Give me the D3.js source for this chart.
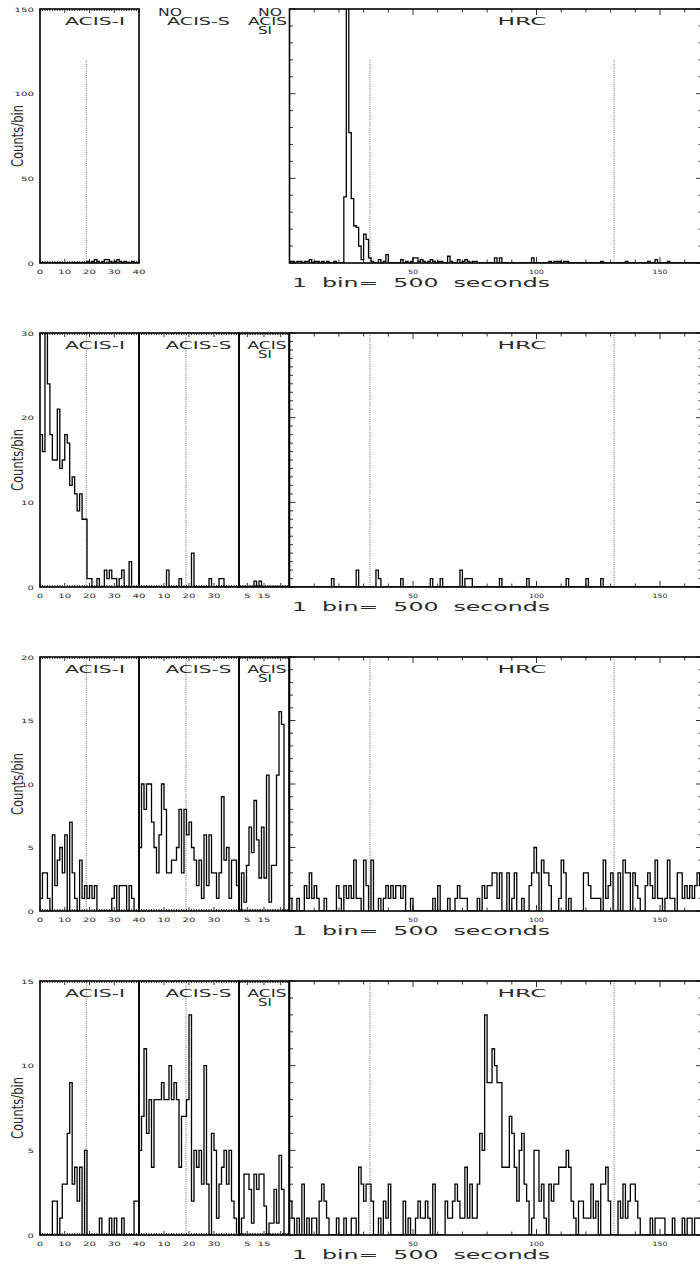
<!DOCTYPE html>
<html>
<head>
<meta charset="utf-8">
<script src="https://cdn.jsdelivr.net/npm/d3@7/dist/d3.min.js"></script>
<style>
  body { margin: 0; background: #fff; }
  svg { display: block; }
  text { font-family: "DejaVu Sans", sans-serif; fill: #2a2a2a; }
</style>
</head>
<body>
<script>
// counts per bin (1 bin = 500 s), one array per row, top row first
var acisI = [
  [0,0,0,0,0,0,0,0,0,0,0,0,0,0,0,0,0,0,0,1,0,1,2,1,0,1,2,2,1,0,1,2,1,0,1,0,0,1,0,0],
  [18,16,30,24,18,15,15,21,14,15,18,17,12,13,11,9,11,8,8,1,1,0,0,1,0,0,2,1,2,1,1,0,1,2,0,0,3,0,0,0],
  [1,3,3,1,0,6,2,4,5,3,6,0,7,3,1,0,4,1,2,1,2,1,2,0,0,0,0,0,0,1,2,0,2,2,2,0,2,1,0,0],
  [0,0,0,0,0,2,2,0,1,3,3,6,9,3,4,2,4,0,5,0,0,0,0,0,1,0,0,0,1,0,1,0,0,1,0,0,0,0,2,2]
];
var acisS = [
  null,
  [0,0,0,0,0,0,0,0,0,0,0,2,0,0,0,0,1,0,0,0,0,4,0,0,0,0,0,0,1,0,0,0,1,1,0,0,0,0,0,0],
  [5,10,8,10,10,7,5,3,6,10,8,3,3,4,4,5,8,3,8,6,7,5,4,2,4,1,6,2,6,3,3,1,3,9,4,5,1,4,4,2],
  [5,7,11,6,8,4,8,8,8,9,8,8,10,8,9,8,4,7,7,8,13,2,5,4,5,3,10,3,0,6,5,1,3,4,5,3,5,2,1,0]
];
// ACIS SI uses 1.5-unit bins, counts scaled back to 500 s
var acisSI = [
  null,
  [0,0,0,0,0,0,0.7,0,0.7,0,0,0,0,0,0,0,0,0,0,0],
  [0,3,0.7,3.6,6.6,4.6,8.7,5.6,2.6,6.6,2.6,10.7,0.7,3.6,3.6,10.7,15.7,14.7,0,0],
  [0,1,3.6,3.6,2.7,0.7,3.6,2.7,3.6,3.6,1.7,0,0.7,0.7,2.7,0.7,4.7,2.7,0,0]
];
var hrc = [
  [1,1,0,1,1,0,1,1,2,0, 1,1,0,1,0,1,0,0,1,0, 0,0,39,160,77,38,22,21,10,2, 17,14,3,1,0,0,2,0,1,5,
   0,0,0,0,0,2,0,1,0,1, 3,3,1,2,1,0,1,2,1,0, 1,1,0,0,4,1,0,0,2,0, 1,2,1,0,1,1,0,0,0,0,
   0,0,0,3,0,3,0,0,0,0, 0,0,0,0,0,0,0,0,3,0, 0,0,0,0,0,1,0,1,1,1, 0,1,1,0,0,0,0,0,0,0,
   0,0,0,0,0,0,1,0,0,0, 0,0,0,0,0,0,1,0,0,0, 0,0,0,0,0,1,0,0,2,0, 0,0,0,1,0,0,0,0,0,0,
   0,0,0,0,0,0,0],
  [0,0,0,0,0,0,0,0,0,0, 0,0,0,0,0,0,0,1,0,0, 0,0,0,0,0,0,0,2,0,0, 0,0,0,0,0,2,1,0,0,0,
   0,0,0,0,0,1,0,0,0,0, 0,0,0,0,0,0,0,1,0,0, 0,1,0,0,0,0,0,0,0,2, 0,1,1,1,0,0,0,0,0,0,
   0,0,0,0,0,1,0,0,0,0, 0,0,0,0,0,0,1,0,0,0, 0,0,0,0,0,0,0,0,0,0, 0,0,1,0,0,0,0,0,0,0,
   1,0,0,0,0,0,1,0,0,0, 0,0,0,0,0,0,0,0,0,0, 0,0,0,0,0,0,0,0,0,0, 0,0,0,0,0,0,0,0,0,0,
   0,0,0,0,0,0,0],
  [1,0,0,1,0,0,2,1,3,1, 2,1,0,0,1,0,0,0,0,2, 1,0,2,1,2,1,4,1,1,0, 4,2,0,4,0,0,1,0,1,2,
   1,2,1,2,2,1,2,0,0,1, 0,0,0,0,0,0,0,0,1,0, 2,0,0,0,1,0,0,1,2,1, 1,1,0,0,0,0,1,0,2,1,
   2,2,3,3,1,3,0,0,3,0, 1,3,0,0,1,0,0,2,3,5, 3,0,4,3,3,2,0,0,0,1, 4,3,0,1,0,0,0,0,0,3,
   3,2,1,1,1,1,0,4,1,2, 3,0,0,3,0,4,3,3,0,3, 2,1,0,0,2,3,2,1,4,1, 1,0,1,4,1,1,0,3,3,1,
   2,1,2,1,2,3,2],
  [2,1,0,1,0,3,0,1,0,1, 1,0,2,3,2,1,0,0,0,1, 0,0,1,0,0,1,1,0,4,3, 2,3,3,2,0,0,1,0,2,1,
   3,0,0,0,0,0,2,0,1,0, 0,1,2,1,1,2,1,0,3,0, 0,0,0,2,1,1,2,3,2,1, 1,4,1,3,1,1,3,6,5,13,
   9,9,11,10,9,9,4,4,4,7, 6,4,2,5,6,3,2,0,1,5, 5,2,3,1,0,3,2,3,3,4, 4,4,5,4,2,1,0,2,2,1,
   1,1,3,1,2,0,3,3,4,2, 0,0,0,2,1,3,1,2,3,3, 2,1,0,0,0,0,1,0,1,1, 1,1,0,0,0,1,0,0,0,1,
   0,1,1,0,1,1,1]
];
var yMax = [150, 30, 20, 15];
var yLabels = [[0,50,100,150],[0,10,20,30],[0,5,10,15,20],[0,5,10,15]];
var yMinorStep = [10, 1, 1, 1];
var xLabelsI = [0,10,20,30,40];
var xLabelsS = [10,20,30];
var xLabelsSI = [5,15];
var xLabelsHRC = [50,100,150];
var markI = 18.7, markS = 18.8, markHRC = [32.6, 131.4], markTop = 120;

var W = 700, H = 1266;
var rowTop = [9, 333, 657, 981], plotH = 254;
var frame = {
  I:   {x0: 40,    x1: 139, n: 40,  bin: 1},
  S:   {x0: 139,   x1: 239, n: 40,  bin: 1},
  SI:  {x0: 239,   x1: 289, n: 30,  bin: 1.5},
  HRC: {x0: 289.5, x1: 702, n: 167, bin: 1}
};

var svg = d3.select("body").append("svg").attr("width", W).attr("height", H);
var defs = svg.append("defs");

function label(g, x, y, s, size, len, anchor) {
  var t = g.append("text").attr("x", x).attr("y", y)
    .attr("font-size", size).attr("text-anchor", anchor || "middle")
    .attr("dominant-baseline", "central").style("white-space", "pre").text(s);
  if (len) t.attr("textLength", len).attr("lengthAdjust", "spacingAndGlyphs");
  return t;
}

function seg(g, x1, y1, x2, y2, w) {
  g.append("line").attr("x1", x1).attr("y1", y1).attr("x2", x2).attr("y2", y2)
    .attr("stroke", "#000").attr("stroke-width", w || 1);
}

function hist(g, vals, bin, x, y, clipId) {
  var pts = vals.map(function(v, i) { return [x(i * bin), y(v)]; });
  pts.push([x(vals.length * bin), y(vals[vals.length - 1])]);
  g.append("path").attr("d", d3.line().curve(d3.curveStepAfter)(pts))
    .attr("fill", "none").attr("stroke", "#000").attr("stroke-width", 1.3)
    .attr("clip-path", "url(#" + clipId + ")");
}

function dotted(g, xv, y, bottom, top) {
  g.append("line").attr("x1", xv).attr("x2", xv)
    .attr("y1", bottom).attr("y2", Math.max(top, y(markTop)))
    .attr("stroke", "#444").attr("stroke-width", 0.8).attr("stroke-dasharray", "1,1.2");
}

function panel(g, key, r, vals, y, opt) {
  var f = frame[key], top = rowTop[r], bottom = top + plotH;
  var x = d3.scaleLinear().domain([0, f.n]).range([f.x0, f.x1]);
  var id = "clip" + key + r;
  defs.append("clipPath").attr("id", id).append("rect")
    .attr("x", f.x0).attr("y", top).attr("width", f.x1 - f.x0).attr("height", plotH);

  // ticks on top and bottom edges
  opt.xticks.forEach(function(t) {
    var len = t.major ? opt.majLen : opt.minLen;
    seg(g, x(t.v), bottom, x(t.v), bottom - len, 0.8);
    seg(g, x(t.v), top, x(t.v), top + len, 0.8);
  });
  if (opt.yticks) {
    opt.yticks.forEach(function(t) {
      var len = t.major ? 6 : 3.5;
      seg(g, f.x0, y(t.v), f.x0 + len, y(t.v), 0.8);
      seg(g, f.x1, y(t.v), f.x1 - len, y(t.v), 0.8);
    });
  }
  (opt.marks || []).forEach(function(m) { dotted(g, x(m), y, bottom, top); });
  hist(g, vals, f.bin, x, y, id);
  g.append("rect").attr("x", f.x0).attr("y", top).attr("width", f.x1 - f.x0).attr("height", plotH)
    .attr("fill", "none").attr("stroke", "#000").attr("stroke-width", 1.6);
  (opt.xlabels || []).forEach(function(v) {
    var s = String(v);
    label(g, x(v), bottom + 8, s, 6, s.length * opt.digitW);
  });
  return x;
}

function denseTicks(n, isMajor) {
  return d3.range(0, n + 1).map(function(v) { return {v: v, major: isMajor(v)}; });
}

rowTop.forEach(function(top, r) {
  var g = svg.append("g");
  var bottom = top + plotH;
  var y = d3.scaleLinear().domain([0, yMax[r]]).range([bottom, top]);

  // y axis labels
  yLabels[r].forEach(function(v) {
    var s = String(v);
    label(g, 34, y(v), s, 6, s.length * 6.5, "end");
  });
  label(g, 17.5, 0, "Counts/bin", 16, 62)
    .attr("transform", "translate(0," + (top + plotH / 2) + ") rotate(-90,17.5,0)");

  var tens = function(v) { return v % 10 === 0; };
  panel(g, "I", r, acisI[r], y, {xticks: denseTicks(40, tens), majLen: 4, minLen: 2,
    marks: [markI], xlabels: xLabelsI, digitW: 6.5});
  label(g, 95, top + 12, "ACIS-I", 10, 60);

  if (acisS[r]) {
    panel(g, "S", r, acisS[r], y, {xticks: denseTicks(40, tens), majLen: 4, minLen: 2,
      marks: [markS], xlabels: xLabelsS, digitW: 6.5});
    panel(g, "SI", r, acisSI[r], y, {xticks: denseTicks(30, function(v) { return v % 10 === 5; }),
      majLen: 4, minLen: 2, xlabels: xLabelsSI, digitW: 6.5});
    label(g, 198.5, top + 12, "ACIS-S", 10, 66);
    label(g, 267, top + 12, "ACIS", 10, 39);
    label(g, 265, top + 21.5, "SI", 10, 14);
  } else {
    label(g, 170, top + 3.5, "NO", 10, 24);
    label(g, 198.5, top + 12.5, "ACIS-S", 10, 63);
    label(g, 270, top + 3.5, "NO", 10, 24);
    label(g, 267.5, top + 12.5, "ACIS", 10, 39);
    label(g, 265, top + 21.5, "SI", 10, 14);
  }

  var hx = d3.range(0, 171, 10).map(function(v) { return {v: v, major: v % 50 === 0}; });
  var hy = d3.range(0, yMax[r] + 0.001, yMinorStep[r]).map(function(v) {
    return {v: v, major: yLabels[r].indexOf(v) >= 0};
  });
  panel(g, "HRC", r, hrc[r], y, {xticks: hx, yticks: hy, majLen: 6, minLen: 3.5,
    marks: markHRC, xlabels: xLabelsHRC, digitW: 5});
  label(g, 522, top + 12, "HRC", 10, 49);

  label(g, 292, bottom + 20, "1  bin=  500  seconds", 12, 258, "start");
});
</script>
</body>
</html>
